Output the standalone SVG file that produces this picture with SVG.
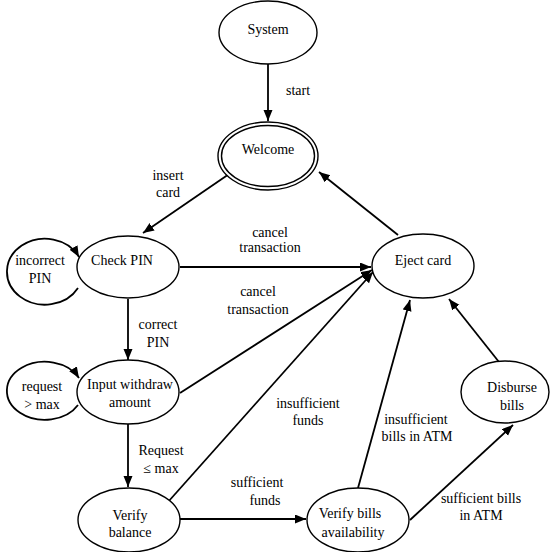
<svg xmlns="http://www.w3.org/2000/svg" width="550" height="552" viewBox="0 0 550 552">
<defs>
<marker id="arr" markerUnits="userSpaceOnUse" markerWidth="12" markerHeight="10" refX="11" refY="4.5" orient="auto">
<path d="M0,0 L11,4.5 L0,9 Z" fill="#000"/>
</marker>
</defs>
<style>
.n{fill:#fff;stroke:#000;stroke-width:1.4}
.e{fill:none;stroke:#000;stroke-width:1.8;marker-end:url(#arr)}
text{font-family:"Liberation Serif","Times New Roman",serif;font-size:14px;text-anchor:middle;fill:#000}
</style>
<rect width="550" height="552" fill="#fff"/>
<g id="edges">
<line class="e" x1="268" y1="64" x2="268" y2="121"/>
<line class="e" x1="232" y1="172" x2="143" y2="233"/>
<line class="e" x1="398" y1="235" x2="319" y2="172"/>
<line class="e" x1="180" y1="267" x2="371" y2="267"/>
<line class="e" x1="180" y1="393" x2="372" y2="270"/>
<line class="e" x1="168" y1="502" x2="373" y2="272"/>
<line class="e" x1="128" y1="299" x2="128" y2="360"/>
<line class="e" x1="128" y1="424" x2="128" y2="487"/>
<line class="e" x1="180" y1="519" x2="306" y2="519"/>
<line class="e" x1="358" y1="488" x2="410" y2="300"/>
<line class="e" x1="410" y1="520" x2="513" y2="425"/>
<line class="e" x1="499" y1="362" x2="449" y2="299"/>
<path class="e" d="M78,288 A38,33 0 1 1 79,257"/>
<path class="e" d="M78,405 A38,29 0 1 1 79,378"/>
<text x="298" y="95">start</text>
<text x="168" y="180">insert</text>
<text x="168" y="197">card</text>
<text x="270" y="237">cancel</text>
<text x="270" y="252">transaction</text>
<text x="258" y="296">cancel</text>
<text x="258" y="314">transaction</text>
<text x="158" y="329">correct</text>
<text x="158" y="347">PIN</text>
<text x="161" y="455">Request</text>
<text x="161" y="473">≤ max</text>
<text x="257" y="487">sufficient</text>
<text x="265" y="505">funds</text>
<text x="308" y="408">insufficient</text>
<text x="308" y="425">funds</text>
<text x="416" y="424">insufficient</text>
<text x="417" y="441">bills in ATM</text>
<text x="481" y="503">sufficient bills</text>
<text x="481" y="520">in ATM</text>
<text x="40" y="265">incorrect</text>
<text x="40" y="283">PIN</text>
<text x="42" y="391">request</text>
<text x="42" y="409">&gt; max</text>
</g>
<g id="system"><ellipse class="n" cx="268" cy="32.5" rx="49" ry="31.5"/><text x="268" y="34">System</text></g>
<g id="welcome"><ellipse class="n" cx="268" cy="156" rx="50" ry="34"/><ellipse class="n" cx="268" cy="156" rx="46.5" ry="30.5"/><text x="268" y="154">Welcome</text></g>
<g id="checkpin"><ellipse class="n" cx="128" cy="267" rx="51" ry="31"/><text x="122" y="265">Check PIN</text></g>
<g id="ejectcard"><ellipse class="n" cx="423" cy="266" rx="51" ry="32"/><text x="423" y="265">Eject card</text></g>
<g id="inputwithdraw"><ellipse class="n" cx="128" cy="392" rx="51" ry="32"/><text x="130" y="389">Input withdraw</text><text x="130" y="407">amount</text></g>
<g id="verifybalance"><ellipse class="n" cx="129" cy="520" rx="51" ry="32"/><text x="130" y="520">Verify</text><text x="130" y="537">balance</text></g>
<g id="verifybills"><ellipse class="n" cx="358" cy="520" rx="51" ry="32"/><text x="350" y="518">Verify bills</text><text x="353" y="537">availability</text></g>
<g id="disburse"><ellipse class="n" cx="505" cy="392" rx="44" ry="31"/><text x="512" y="392">Disburse</text><text x="512" y="410">bills</text></g>
</svg>
